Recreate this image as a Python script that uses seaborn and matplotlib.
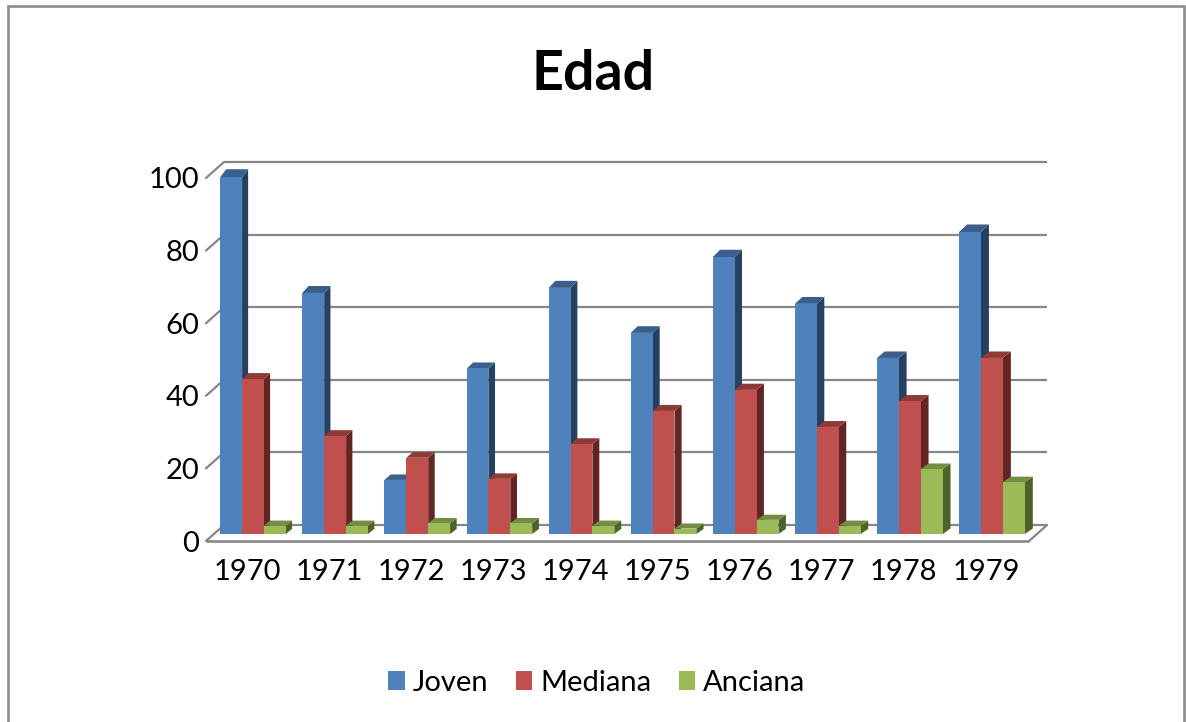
import pandas as pd
import seaborn as sns
import matplotlib.pyplot as plt
from matplotlib.patches import Polygon, Rectangle
from matplotlib.transforms import IdentityTransform, ScaledTranslation, offset_copy

anios = [1970, 1971, 1972, 1973, 1974, 1975, 1976, 1977, 1978, 1979]
joven = [98.3, 66.4, 14.9, 45.5, 67.8, 55.4, 76.3, 63.4, 48.5, 83.2]
mediana = [42.6, 27, 21, 15.2, 24.8, 33.9, 39.7, 29.5, 36.6, 48.5]
anciana = [2.3, 2.3, 3, 3, 2.3, 1.5, 3.9, 2.3, 17.9, 14.3]
series = ['Joven', 'Mediana', 'Anciana']
ticks_y = [0, 20, 40, 60, 80, 100]

colores = ['#4F81BD', '#C0504D', '#9BBB59']
lados = ['#254061', '#632523', '#4F6228']
techos = ['#3A5F8C', '#8E3A37', '#738D43']
gris = '#868686'

df = pd.DataFrame({'anio': anios, 'Joven': joven, 'Mediana': mediana, 'Anciana': anciana})
df = df.melt(id_vars='anio', value_vars=series, var_name='serie', value_name='valor')

sns.set_theme(style='white')
plt.rcParams['font.family'] = ['Lato', 'DejaVu Sans']

W, H = 1186, 722
fig = plt.figure(figsize=(W / 100, H / 100), dpi=100)
ax = fig.add_axes([212 / W, (H - 534) / H, 821 / W, 363 / H])
ax.patch.set_alpha(0)

#Marco exterior (la parte de abajo queda fuera de la imagen)
fig.add_artist(Rectangle((8, -40), 1176, H - 5.5 + 40, transform=IdentityTransform(),
                         facecolor='white', edgecolor='#8C8C8C', linewidth=1.9, zorder=-5))

sns.barplot(data=df, x='anio', y='valor', hue='serie', hue_order=series, palette=colores,
            width=0.8, gap=0, saturation=1, linewidth=0, legend=False, ax=ax)
ax.set_xlim(-0.5, 9.5)
ax.set_ylim(0, 100)
sns.despine(ax=ax, left=True, bottom=True)
ax.set_xlabel('')
ax.set_ylabel('')

#Planos del fondo y del frente, desplazados en pixeles
fondo = offset_copy(ax.transData, fig=fig, x=12, y=9, units='dots')
frente = offset_copy(ax.transData, fig=fig, x=-6, y=-7, units='dots')
fin = 9.525

ax.hlines(ticks_y, -0.5, fin, transform=fondo, color=gris, linewidth=1.6, zorder=1, clip_on=False)
ax.hlines(0, -0.5, fin, transform=frente, color=gris, linewidth=1.9, zorder=1, clip_on=False)
for t in ticks_y:
    p0 = frente.transform((-0.5, t))
    p1 = fondo.transform((-0.5, t))
    ax.plot([p0[0], p1[0]], [p0[1], p1[1]], color=gris, linewidth=1.6, transform=IdentityTransform(),
            clip_on=False, zorder=1)
p0 = frente.transform((fin, 0))
p1 = fondo.transform((fin, 0))
ax.plot([p0[0], p1[0]], [p0[1], p1[1]], color=gris, linewidth=1.6, transform=IdentityTransform(),
        clip_on=False, zorder=1)

#Caras laterales y superiores de cada barra
for k, cont in enumerate(ax.containers):
    for bar in cont:
        x0 = bar.get_x()
        h = bar.get_height()
        (px0, py0) = ax.transData.transform((x0, 0))
        (px1, py1) = ax.transData.transform((x0 + bar.get_width(), h))
        dx = 6 + 2 * (x0 + 0.5) / 9.5
        dy = 5 + 3 * h / 100
        bar.set_zorder(4 + 2 * k)
        lado = Polygon([(px1, py0), (px1 + dx, py0 + dy), (px1 + dx, py1 + dy), (px1, py1)],
                       transform=IdentityTransform(), facecolor=lados[k], edgecolor='none',
                       clip_on=False, zorder=3 + 2 * k)
        techo = Polygon([(px0, py1), (px0 + dx, py1 + dy), (px1 + dx, py1 + dy), (px1, py1)],
                        transform=IdentityTransform(), facecolor=techos[k], edgecolor='none',
                        clip_on=False, zorder=3 + 2 * k)
        ax.add_patch(lado)
        ax.add_patch(techo)

#Ejes
ax.set_yticks(ticks_y)
ax.set_yticklabels(ticks_y)
ax.tick_params(axis='both', length=0, labelsize=21, colors='black')
ax.tick_params(axis='y', pad=5)
ax.tick_params(axis='x', pad=13)
desplaza = ScaledTranslation(-6 / 100, -7 / 100, fig.dpi_scale_trans)
for lbl in ax.get_xticklabels() + ax.get_yticklabels():
    lbl.set_transform(lbl.get_transform() + desplaza)

#Titulo
fig.text(593 / W, (H - 74) / H, 'Edad', ha='center', va='center', fontsize=40, fontweight='bold', color='black')

#Leyenda
handles = [Rectangle((0, 0), 1, 1, facecolor=c, edgecolor='none') for c in colores]
fig.legend(handles, series, ncol=3, loc='center', bbox_to_anchor=(597 / W, (H - 683) / H),
           frameon=False, fontsize=21, handlelength=0.55, handleheight=0.65,
           handletextpad=0.28, columnspacing=0.95, labelcolor='black')

fig.savefig('out.png', dpi=100)
